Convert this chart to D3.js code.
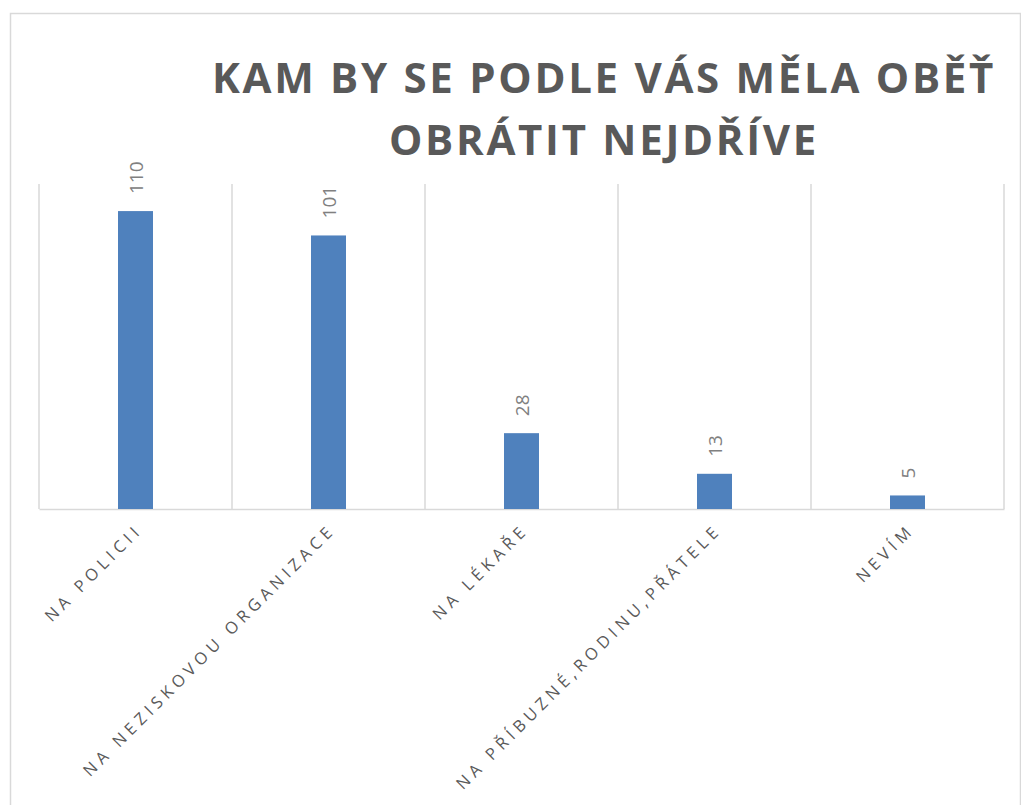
<!DOCTYPE html>
<html>
<head>
<meta charset="utf-8">
<script src="https://cdn.jsdelivr.net/npm/d3@7"></script>
<style>
  body { margin: 0; background: #fff; }
  text { font-family: "Open Sans", sans-serif; }
</style>
</head>
<body>
<div id="chart"></div>
<script>
// data
var categories = ["NA POLICII", "NA NEZISKOVOU ORGANIZACE", "NA LÉKAŘE", "NA PŘÍBUZNÉ,RODINU,PŘÁTELE", "NEVÍM"];
var values = [110, 101, 28, 13, 5];
var titleLines = ["KAM BY SE PODLE VÁS MĚLA OBĚŤ", "OBRÁTIT NEJDŘÍVE"];

var W = 1021, H = 805;
var plot = {left: 39, right: 1004, top: 184, bottom: 509};

var svg = d3.select("#chart")
  .append("svg")
    .attr("width", W)
    .attr("height", H);

// outer chart border
svg.append("rect")
  .attr("x", 10.5).attr("y", 13.5)
  .attr("width", 1010).attr("height", 810)
  .attr("fill", "none")
  .attr("stroke", "#d9d9d9")
  .attr("stroke-width", 1.5);

// title
svg.append("text")
  .attr("text-anchor", "middle")
  .attr("font-weight", "bold")
  .attr("font-size", 42)
  .attr("letter-spacing", 2.7)
  .attr("fill", "#595959")
  .selectAll("tspan")
  .data(titleLines)
  .enter().append("tspan")
    .attr("x", 604)
    .attr("y", function(d, i) { return 93 + i * 62; })
    .text(function(d) { return d; });

// scales
var x = d3.scaleBand()
  .domain(categories)
  .range([plot.left, plot.right]);

var y = d3.scaleLinear()
  .domain([0, 120])
  .range([plot.bottom, plot.top]);

// category separators
svg.append("g")
  .selectAll("line")
  .data(d3.range(categories.length + 1))
  .enter().append("line")
    .attr("x1", function(i) { return plot.left + i * x.step(); })
    .attr("x2", function(i) { return plot.left + i * x.step(); })
    .attr("y1", plot.top)
    .attr("y2", plot.bottom)
    .attr("stroke", "#d9d9d9")
    .attr("stroke-width", 1.5);

// x axis
var xAxis = svg.append("g")
  .attr("transform", "translate(0," + plot.bottom + ")")
  .call(d3.axisBottom(x).tickSize(0).tickPadding(0));
xAxis.select(".domain")
  .attr("stroke", "#d9d9d9")
  .attr("stroke-width", 1.5);
xAxis.selectAll("text")
  .attr("font-family", "Open Sans, sans-serif")
  .attr("font-size", 16.5)
  .attr("letter-spacing", 4.7)
  .attr("fill", "#595959")
  .attr("text-anchor", "end")
  .attr("dy", 0)
  .attr("y", 0)
  .attr("transform", "translate(8,22) rotate(-45)");

// bars
var bw = 35;
svg.append("g")
  .selectAll("rect")
  .data(values)
  .enter().append("rect")
    .attr("x", function(d, i) { return x(categories[i]) + x.bandwidth() / 2 - bw / 2; })
    .attr("y", function(d) { return y(d); })
    .attr("width", bw)
    .attr("height", function(d) { return y(0) - y(d); })
    .attr("fill", "#4f81bd");

// data labels
svg.append("g")
  .selectAll("text")
  .data(values)
  .enter().append("text")
    .attr("transform", function(d, i) {
      return "translate(" + (x(categories[i]) + x.bandwidth() / 2 + 7) + "," + (y(d) - 17) + ") rotate(-90)";
    })
    .attr("font-size", 19)
    .attr("fill", "#808080")
    .text(function(d) { return d; });
</script>
</body>
</html>
